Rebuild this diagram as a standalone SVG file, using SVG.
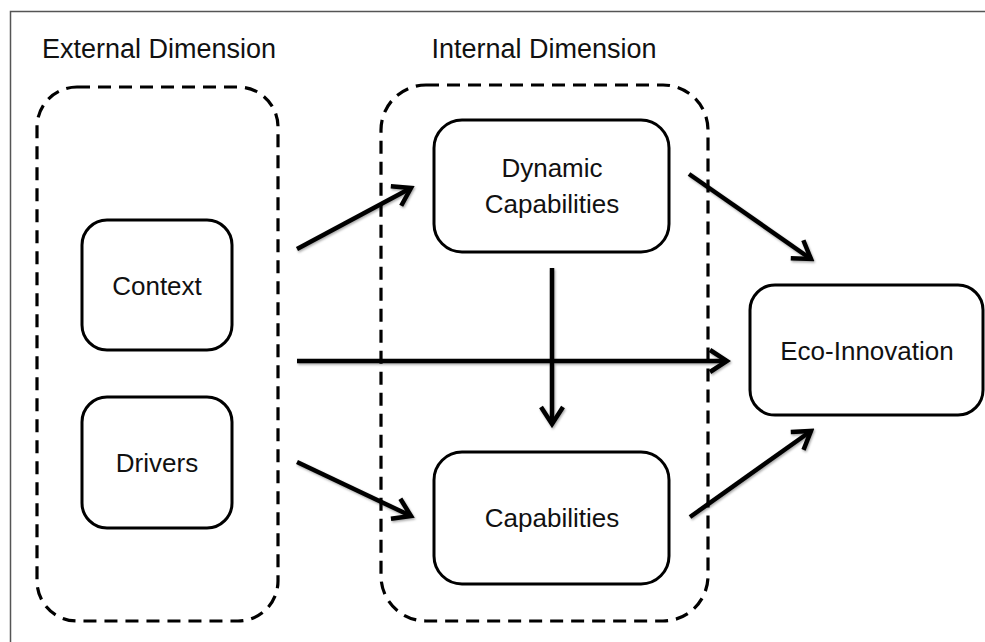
<svg xmlns="http://www.w3.org/2000/svg" width="985" height="642" viewBox="0 0 985 642">
<defs>
<style>
.frame{fill:none;stroke:#555;stroke-width:1.5}
.group{fill:none;stroke:#000;stroke-width:3.2;stroke-dasharray:13 8}
.node{fill:#fff;stroke:#000;stroke-width:3}
.lbl{font-family:"Liberation Sans","Open Sans",sans-serif;font-size:26px;fill:#111;text-anchor:middle}
.title{font-family:"Liberation Sans","Open Sans",sans-serif;font-size:27px;fill:#111;text-anchor:middle}
.edge{fill:none;stroke:#000;stroke-width:4.5;marker-end:url(#arr)}
</style>
<marker id="arr" viewBox="-22 -14 26 28" refX="0" refY="0" markerWidth="26" markerHeight="28" markerUnits="userSpaceOnUse" orient="auto">
<path d="M-17,-11 L0,0 L-17,11" fill="none" stroke="#000" stroke-width="4.5" stroke-linejoin="miter"/>
</marker>
<filter id="sh" x="-10%" y="-10%" width="120%" height="120%">
<feDropShadow dx="1" dy="1.5" stdDeviation="1.2" flood-color="#000" flood-opacity="0.35"/>
</filter>
</defs>
<rect class="frame" x="10.5" y="11.5" width="1000" height="700"/>
<g id="external">
<text class="title" x="159" y="58">External Dimension</text>
<rect class="group" x="37" y="87" width="241" height="534" rx="40" ry="40"/>
</g>
<g id="internal">
<text class="title" x="544" y="58">Internal Dimension</text>
<rect class="group" x="381" y="85" width="327" height="536" rx="45" ry="45"/>
</g>
<g id="connectors" filter="url(#sh)">
<line class="edge" x1="297" y1="249" x2="411" y2="188"/>
<line class="edge" x1="297" y1="361" x2="727" y2="361"/>
<line class="edge" x1="552" y1="268" x2="552" y2="424"/>
<line class="edge" x1="297" y1="462" x2="411" y2="516"/>
<line class="edge" x1="689" y1="174" x2="811" y2="259"/>
<line class="edge" x1="690" y1="517" x2="811" y2="431"/>
</g>
<g id="context">
<rect class="node" x="82" y="220" width="150" height="130" rx="25" ry="25"/>
<text class="lbl" x="157" y="295">Context</text>
</g>
<g id="drivers">
<rect class="node" x="82" y="397" width="150" height="131" rx="25" ry="25"/>
<text class="lbl" x="157" y="472">Drivers</text>
</g>
<g id="dynamic-capabilities">
<rect class="node" x="434" y="120" width="235" height="132" rx="28" ry="28"/>
<text class="lbl" x="552" y="177">Dynamic</text>
<text class="lbl" x="552" y="213">Capabilities</text>
</g>
<g id="capabilities">
<rect class="node" x="434" y="452" width="235" height="132" rx="28" ry="28"/>
<text class="lbl" x="552" y="527">Capabilities</text>
</g>
<g id="eco-innovation">
<rect class="node" x="750" y="285" width="233" height="130" rx="25" ry="25"/>
<text class="lbl" x="867" y="360">Eco-Innovation</text>
</g>
</svg>
